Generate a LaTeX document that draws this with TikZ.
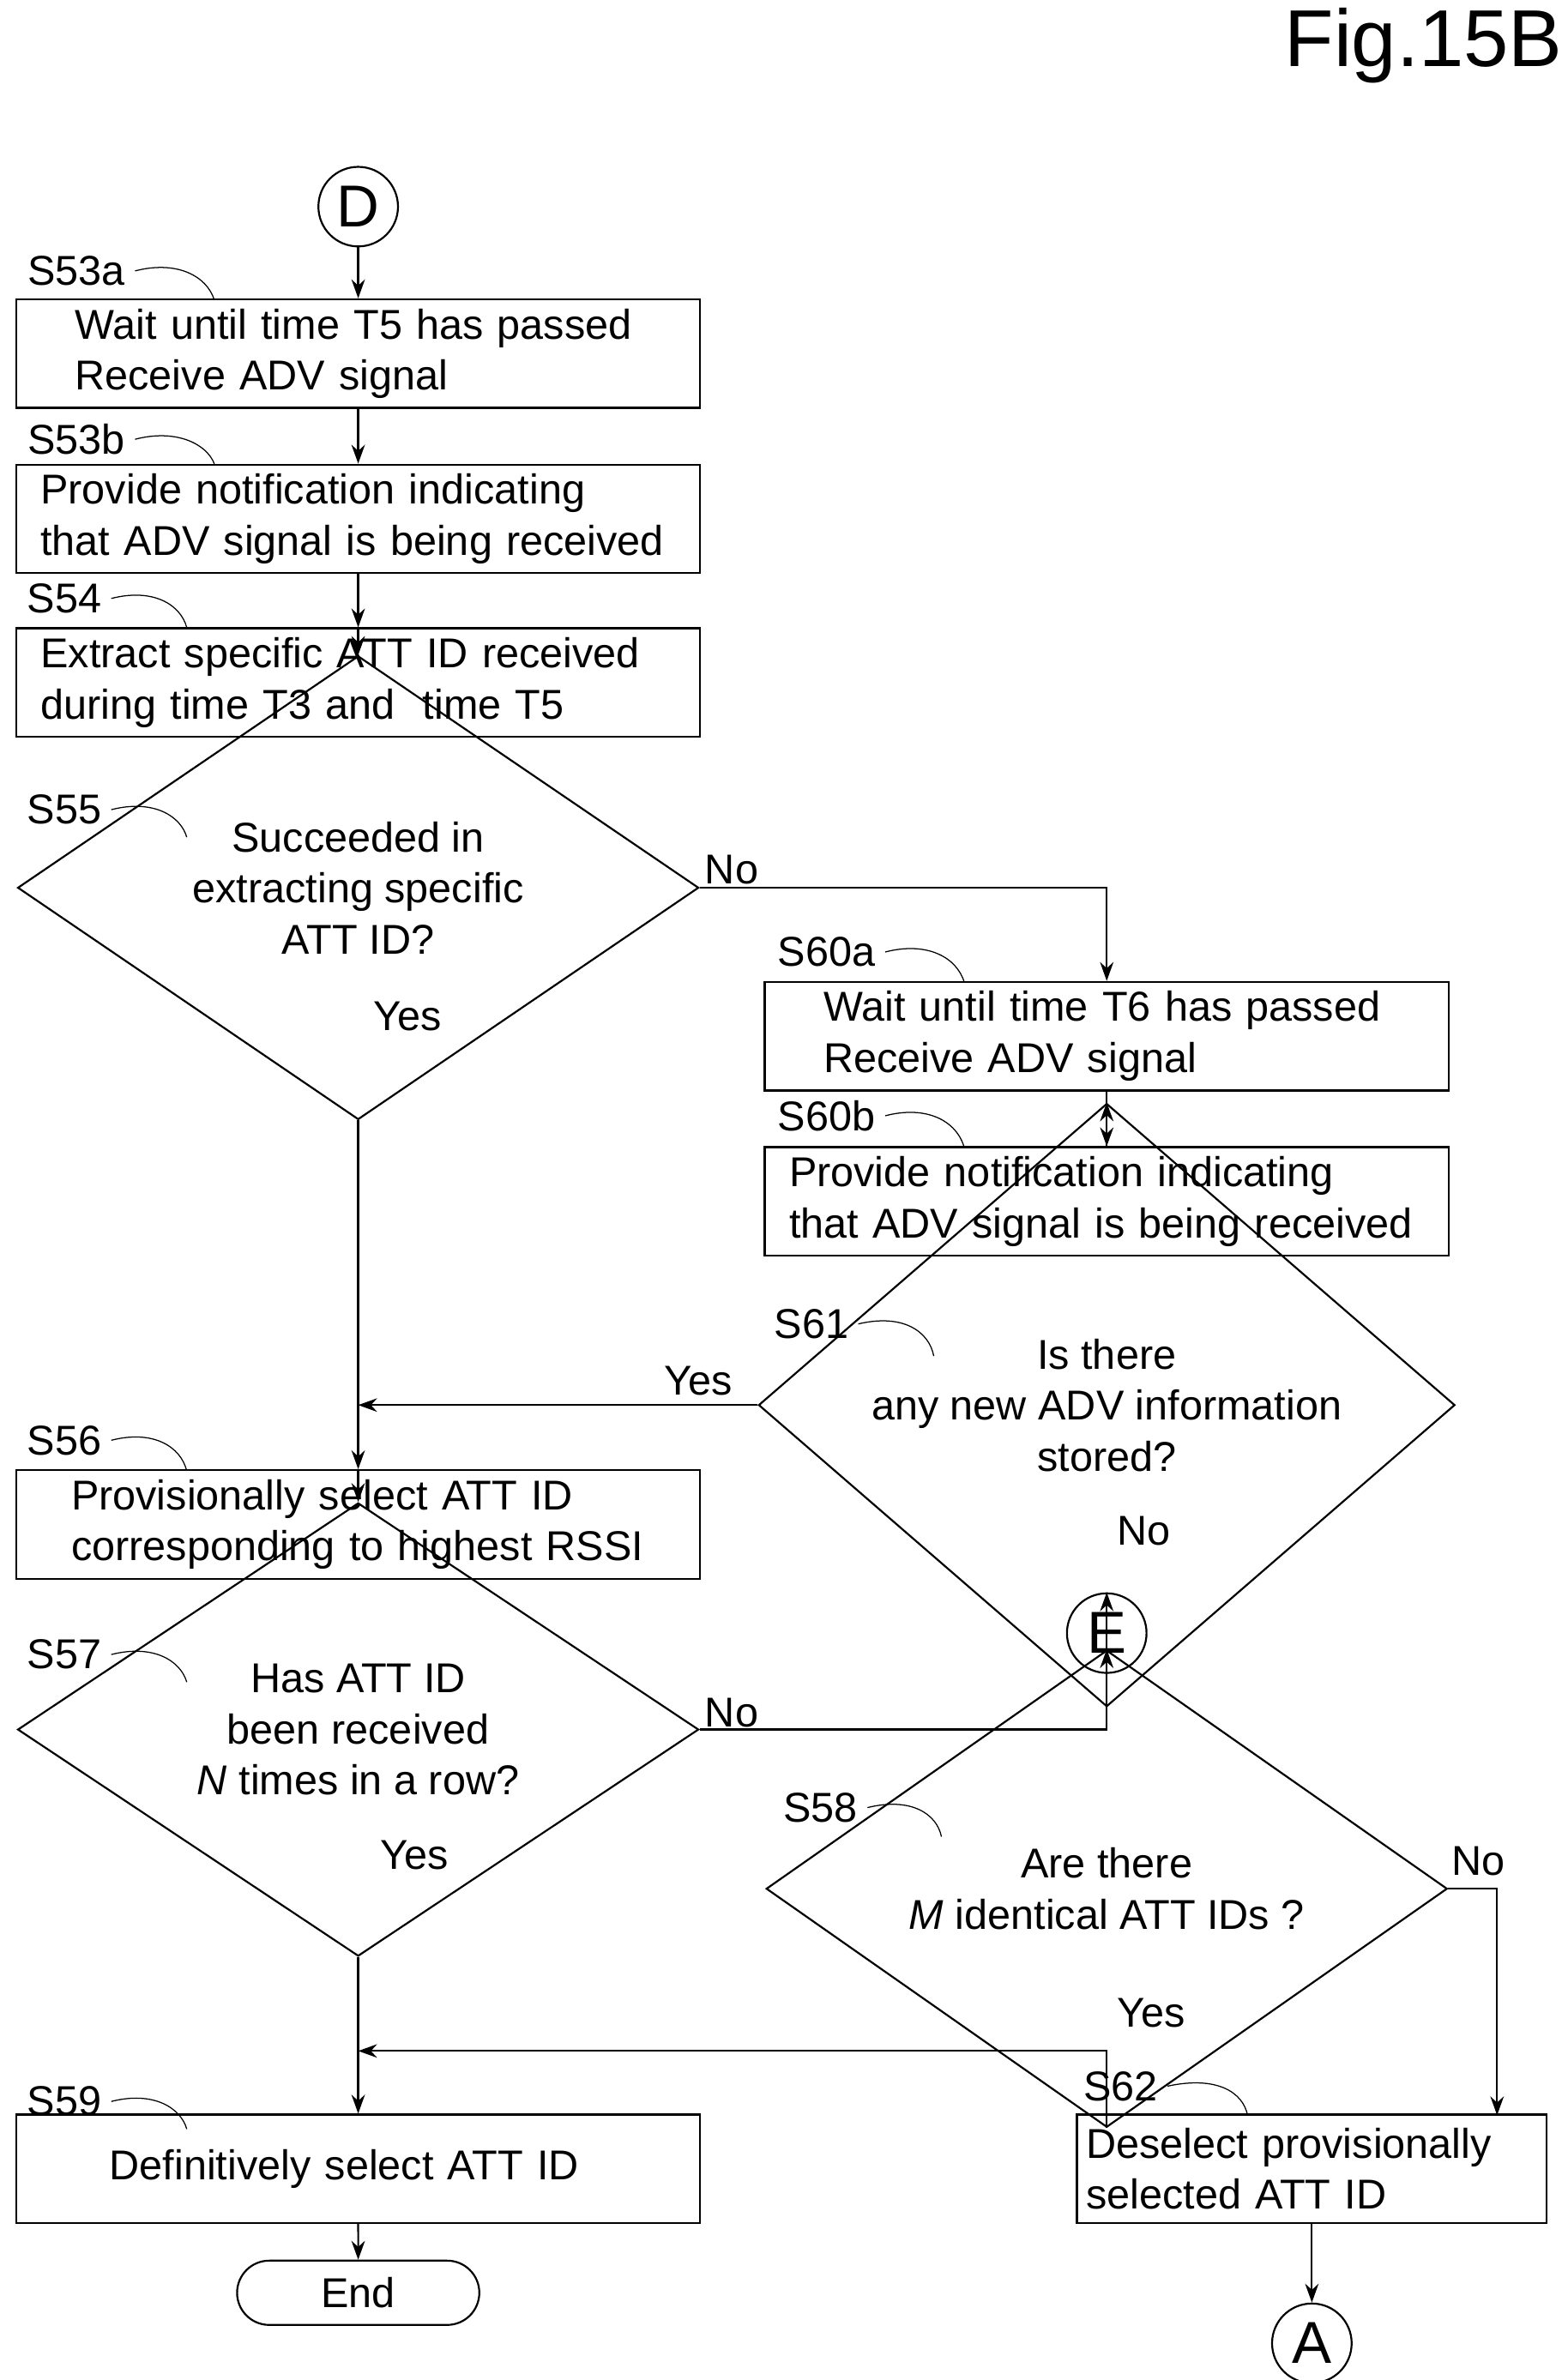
\documentclass[tikz,border=0pt]{standalone}
\usepackage{fontspec}
\setmainfont{Liberation Sans}
\usetikzlibrary{shapes.geometric,shapes.misc,calc,arrows.meta}
\tikzset{
  box/.style={draw, rectangle, minimum width=8.94cm, minimum height=1.42cm, text width=8.5cm, align=left, inner sep=0pt},
  dia/.style={draw, diamond, minimum width=8.9cm, minimum height=2.56cm, inner sep=0pt, align=center},
  con/.style={draw, circle, minimum size=1.04cm, inner sep=0pt, font=\fontsize{22}{24}\selectfont},
  arr/.style={-{Stealth[length=7pt,width=5pt]}},
  lbl/.style={anchor=center},
  lead/.style={thin}
}
\begin{document}
\begin{tikzpicture}[x=0.02cm, y=-0.02cm, font=\fontsize{15.5}{19}\selectfont, line width=0.7pt]
\useasboundingbox (0,0) rectangle (1024,1555);

\node[font=\fontsize{30}{32}\selectfont] (fig) at (930,30) {Fig.15B};

% start and first boxes
\node[con] (D) at (234,135) {D};
\node[box] (b53a) at (234,231) {\hspace{0.55cm}Wait until time T5 has passed\\\hspace{0.55cm}Receive ADV signal};
\node[box] (b53b) at (234,339) {\hspace{0.1cm}Provide notification indicating\\\hspace{0.1cm}that ADV signal is being received};
\node[box] (b54) at (234,446) {\hspace{0.1cm}Extract specific ATT ID received\\\hspace{0.1cm}during time T3 and\ \ time T5};
\node[dia] (d55) at (234,580) {Succeeded in\\extracting specific\\ATT ID?};

% step labels
\node[lbl] (l53a) at (50,177) {S53a};
\node[lbl] (l53b) at (50,287) {S53b};
\node[lbl] (l54) at (42,391) {S54};
\node[lbl] (l55) at (42,529) {S55};
\draw[lead] (l53a.east) .. controls (115,170) and (135,180) .. (140,196);
\draw[lead] (l53b.east) .. controls (115,280) and (135,290) .. (140,303);
\draw[lead] (l54.east) .. controls (100,384) and (118,395) .. (122,410);
\draw[lead] (l55.east) .. controls (100,522) and (118,533) .. (122,547);

\draw[arr] (D) -- (b53a);
\draw[arr] (b53a) -- (b53b);
\draw[arr] (b53b) -- (b54);
\draw[arr] (b54) -- (d55);

% right branch
\node[box] (b60a) at (723,677) {\hspace{0.55cm}Wait until time T6 has passed\\\hspace{0.55cm}Receive ADV signal};
\node[box] (b60b) at (723,785) {\hspace{0.1cm}Provide notification indicating\\\hspace{0.1cm}that ADV signal is being received};
\node[dia, minimum width=9.1cm] (d61) at (723,918) {Is there\\any new ADV information\\stored?};
\node[con] (E) at (723,1067) {E};
\node[lbl] (l60a) at (540,622) {S60a};
\node[lbl] (l60b) at (540,729) {S60b};
\node[lbl] (l61) at (530,865) {S61};
\draw[lead] (l60a.east) .. controls (605,615) and (625,625) .. (630,642);
\draw[lead] (l60b.east) .. controls (605,722) and (625,732) .. (630,750);
\draw[lead] (l61.east) .. controls (590,858) and (607,870) .. (610,886);

\draw[arr] (d55.east) -- (723,580) -- (b60a.north);
\node[lbl] at (478,568) {No};
\draw[arr] (b60a) -- (b60b);
\draw[arr] (b60b) -- (d61);
\draw[arr] (d61) -- (E);
\node[lbl] at (747,1000) {No};

% middle
\node[box] (b56) at (234,996) {\hspace{0.5cm}Provisionally select ATT ID\\\hspace{0.5cm}corresponding to highest RSSI};
\node[dia] (d57) at (234,1130) {Has ATT ID\\been received\\\textit{N} times in a row?};
\node[lbl] (l56) at (42,941) {S56};
\node[lbl] (l57) at (42,1081) {S57};
\draw[lead] (l56.east) .. controls (100,934) and (118,945) .. (122,961);
\draw[lead] (l57.east) .. controls (100,1074) and (118,1085) .. (122,1099);

\draw[arr] (d55) -- (b56);
\node[lbl] at (266,664) {Yes};
\coordinate (j61) at (234,918);
\draw[arr] (d61.west) -- (j61);
\node[lbl] at (456,902) {Yes};
\draw[arr] (b56) -- (d57);

% S58 and S62
\node[dia] (d58) at (723,1234) {Are there\\\textit{M} identical ATT IDs ?};
\node[box, minimum width=6.14cm, text width=5.9cm] (b62) at (857,1417) {Deselect provisionally\\selected ATT ID};
\node[con] (A) at (857,1531) {A};
\node[lbl] (l58) at (536,1181) {S58};
\node[lbl] (l62) at (732,1363) {S62};
\draw[lead] (l58.east) .. controls (595,1174) and (612,1185) .. (615,1200);
\draw[lead] (l62.east) .. controls (795,1356) and (812,1367) .. (815,1382);
\draw[arr] (d57.east) -- (723,1130) -- (d58.north);
\node[lbl] at (478,1119) {No};
\draw[arr] (d58.east) -- (978,1234) -- (978,1382);
\node[lbl] at (966,1216) {No};
\draw[arr] (b62) -- (A);

% end
\node[box] (b59) at (234,1417) {\hspace{1cm}Definitively select ATT ID};
\node[draw, rounded rectangle, minimum width=3.4cm, minimum height=0.84cm] (end) at (234,1498) {End};
\node[lbl] (l59) at (42,1373) {S59};
\draw[lead] (l59.east) .. controls (100,1366) and (118,1377) .. (122,1391);
\draw[arr] (d57) -- (b59);
\node[lbl] at (271,1212) {Yes};
\coordinate (j58) at (234,1340);
\draw[arr] (d58.south) -- (723,1340) -- (j58);
\node[lbl] at (752,1315) {Yes};
\draw[arr] (b59) -- (end);

\end{tikzpicture}
\end{document}
